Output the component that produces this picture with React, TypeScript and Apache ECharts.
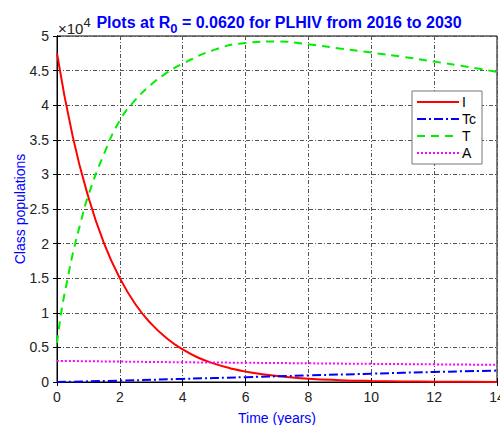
import React, { useEffect, useRef } from "react";
import * as echarts from "echarts";

const tI = [0, 0.5, 1, 1.5, 2, 2.5, 3, 3.5, 4, 4.5, 5, 5.5, 6, 7, 8, 9, 10, 11, 12, 13, 14];
const valI = [47500, 35500, 26700, 20000, 15000, 11200, 8400, 6300, 4700, 3500, 2650, 2000, 1500, 850, 480, 270, 150, 85, 50, 30, 15];

const tT = [0, 0.1, 0.2, 0.35, 0.5, 0.75, 1, 1.5, 2, 2.5, 3, 3.5, 4, 5, 6, 7, 8, 9, 10, 11, 12, 13, 14];
const valT = [5600, 9000, 11800, 15200, 18500, 23000, 27000, 33000, 37800, 40800, 43000, 44700, 46000, 48000, 49000, 49200, 48800, 48200, 47600, 47000, 46300, 45600, 44800];

const tTc = [0, 2, 4, 6, 8, 10, 12, 14];
const valTc = [0, 200, 450, 700, 950, 1200, 1450, 1650];

const tA = [0, 2, 4, 6, 8, 10, 12, 14];
const valA = [3050, 2950, 2850, 2780, 2700, 2620, 2550, 2480];

const xTicks = [0, 2, 4, 6, 8, 10, 12, 14];

const FONT = "Liberation Sans, Arial, sans-serif";

const pairs = (xs: number[], ys: number[]) => xs.map((x, i) => [x, ys[i]]);

export default function App() {
  const ref = useRef<HTMLDivElement>(null);
  useEffect(() => {
    if (!ref.current) return;
    const chart = echarts.init(ref.current, null, { renderer: "svg" });
    const grid = "#555";
    const split = { show: true, lineStyle: { color: grid, type: [4, 2, 1, 2] as any, width: 1 } };
    chart.setOption({
      animation: false,
      backgroundColor: "#fff",
      textStyle: { fontFamily: FONT },
      title: {
        text: "{a|Plots at R}{s|0}{a| = 0.0620 for PLHIV from 2016 to 2030}",
        left: 274,
        textAlign: "center",
        top: 5,
        textStyle: {
          rich: {
            a: { fontSize: 16, fontWeight: "bold", color: "#0000ff", fontFamily: FONT },
            s: { fontSize: 13, fontWeight: "bold", color: "#0000ff", fontFamily: FONT, padding: [12, 0, 0, 0] },
          },
        },
      },
      grid: { left: 57, top: 36, width: 440, height: 346, show: true, borderColor: "#000", borderWidth: 1, backgroundColor: "#fff", outerBoundsMode: "none", containLabel: false } as any,
      legend: {
        orient: "vertical",
        left: 412,
        top: 91,
        itemWidth: 42,
        itemHeight: 14,
        itemGap: 3,
        padding: [4, 6, 4, 4],
        backgroundColor: "#fff",
        borderColor: "#777",
        borderWidth: 1,
        itemStyle: { opacity: 0 },
        textStyle: { fontSize: 14, color: "#000", fontFamily: FONT, padding: [0, 0, 0, -2] },
        data: ["I", "Tc", "T", "A"],
      },
      xAxis: [
        {
          type: "value",
          min: 0,
          max: 14,
          interval: 2,
          name: "Time (years)",
          nameLocation: "middle",
          nameGap: 29,
          nameMoveOverlap: false,
          nameTextStyle: { color: "#0000ff", fontSize: 14, fontFamily: FONT },
          axisLine: { show: true, lineStyle: { color: "#000" } },
          axisTick: { show: true, inside: true, length: 4, lineStyle: { color: "#000" } },
          axisLabel: { color: "#222", fontSize: 14, margin: 8, fontFamily: FONT, formatter: (v: number) => (xTicks.includes(v) ? String(v) : "") },
          splitLine: split,
        },
        {
          type: "value",
          position: "top",
          min: 0,
          max: 14,
          interval: 2,
          axisLine: { show: true, lineStyle: { color: "#000" } },
          axisTick: { show: true, inside: true, length: 4, lineStyle: { color: "#000" } },
          axisLabel: { show: false },
          splitLine: { show: false },
        },
      ],
      yAxis: [
        {
          type: "value",
          min: 0,
          max: 50000,
          interval: 5000,
          name: "Class populations",
          nameLocation: "middle",
          nameGap: 30,
          nameMoveOverlap: false,
          nameTextStyle: { color: "#0000ff", fontSize: 14, fontFamily: FONT },
          axisLine: { show: true, lineStyle: { color: "#000" } },
          axisTick: { show: true, inside: true, length: 4, lineStyle: { color: "#000" } },
          axisLabel: { color: "#222", fontSize: 14, margin: 8, fontFamily: FONT, formatter: (v: number) => String(v / 10000) },
          splitLine: split,
        },
        {
          type: "value",
          position: "right",
          min: 0,
          max: 50000,
          interval: 5000,
          axisLine: { show: true, lineStyle: { color: "#000" } },
          axisTick: { show: true, inside: true, length: 4, lineStyle: { color: "#000" } },
          axisLabel: { show: false },
          splitLine: { show: false },
        },
      ],
      graphic: [
        {
          type: "text",
          left: 58,
          top: 16,
          style: {
            text: "{a|×10}{s|4}",
            rich: {
              a: { fontSize: 15, fill: "#222", fontFamily: FONT, padding: [5, 0, 0, 0] },
              s: { fontSize: 13, fill: "#222", fontFamily: FONT, padding: [0, 0, 6, 0] },
            },
          },
        },
      ],
      series: [
        {
          name: "I",
          type: "line",
          smooth: true,
          symbol: "none",
          data: pairs(tI, valI),
          lineStyle: { color: "#ff0000", width: 2, type: "solid" },
          itemStyle: { color: "#ff0000" },
        },
        {
          name: "Tc",
          type: "line",
          smooth: true,
          symbol: "none",
          data: pairs(tTc, valTc),
          lineStyle: { color: "#0000ff", width: 2, type: [9, 3, 2, 3] },
          itemStyle: { color: "#0000ff" },
        },
        {
          name: "T",
          type: "line",
          smooth: true,
          symbol: "none",
          data: pairs(tT, valT),
          lineStyle: { color: "#00ee00", width: 2, type: [8, 6] },
          itemStyle: { color: "#00ee00" },
        },
        {
          name: "A",
          type: "line",
          smooth: true,
          symbol: "none",
          data: pairs(tA, valA),
          lineStyle: { color: "#ff00ff", width: 2, type: [2, 2] },
          itemStyle: { color: "#ff00ff" },
        },
      ],
    });
    return () => chart.dispose();
  }, []);
  return <div ref={ref} style={{ width: 500, height: 425, position: "absolute", left: 0, top: 0 }} />;
}
